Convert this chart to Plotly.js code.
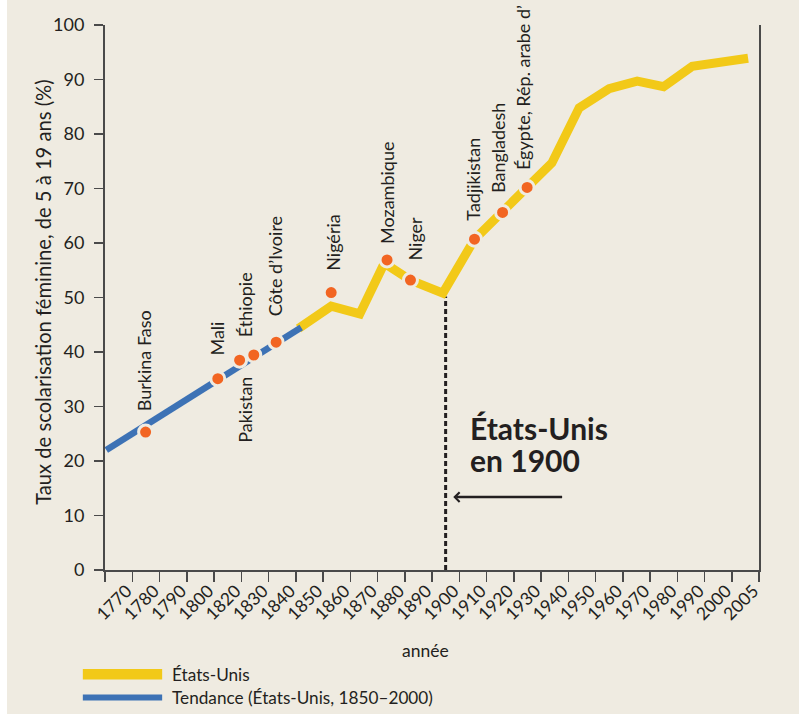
<!DOCTYPE html>
<html>
<head>
<meta charset="utf-8">
<script src="https://cdn.plot.ly/plotly-3.0.1.min.js"></script>
<style>
html,body{margin:0;padding:0;background:#ffffff;}
#chart{position:absolute;left:7px;top:0;width:792px;height:714px;}
</style>
</head>
<body>
<div id="chart"></div>
<script>
// x axis categories (equally spaced label slots; note 1810 is absent in the original)
const tickLabels = ['1770','1780','1790','1800','1820','1830','1840','1850','1860','1870','1880','1890','1900','1910','1920','1930','1940','1950','1960','1970','1980','1990','2000','2005'];

// États-Unis series (x in label-slot units, y in %)
const usPos  = [6.6, 7.8, 8.85, 9.75, 10.7, 11.9, 13.06, 14.09, 14.99, 15.9, 16.9, 18.0, 19.03, 20.0, 21.05, 22.09, 23.1];
const usRate = [44.3, 48.4, 47.0, 56.3, 53.2, 50.8, 60.7, 65.6, 70.2, 74.7, 84.8, 88.3, 89.7, 88.7, 92.4, 93.3, 93.9];

// Tendance (États-Unis, 1850–2000) extended backwards
const trendPos  = [-0.45, 6.7];
const trendRate = [22.0, 44.5];

// Countries placed on the US curve
const countryNames = ['Burkina Faso','Mali','Pakistan','Éthiopie','Côte d’Ivoire','Nigéria','Mozambique','Niger','Tadjikistan','Bangladesh','Égypte, Rép. arabe d’'];
const countryPos   = [0.99, 3.64, 4.44, 4.96, 5.78, 7.8, 9.85, 10.71, 13.06, 14.09, 14.99];
const countryRate  = [25.3, 35.1, 38.5, 39.45, 41.8, 50.9, 56.9, 53.2, 60.7, 65.6, 70.2];

// Reference marker: États-Unis en 1900
const refPos  = [12, 12];
const refRate = [0, 50.2];

const BG = '#efebe1';
const YELLOW = '#f2c918';
const BLUE = '#3d72b5';
const ORANGE = '#f26522';
const TXT = '#231f20';
const AXIS = '#4a4a4a';
const FONT = 'Lato, "Open Sans", sans-serif';

// label placement (pixel offsets from each dot)
const labelPlace = {
  'Burkina Faso': {dx: -2, gap: 19, below: false},
  'Mali': {dx: -1, gap: 21, below: false},
  'Pakistan': {dx: 6, gap: 15, below: true},
  'Éthiopie': {dx: -9, gap: 16, below: false},
  'Côte d’Ivoire': {dx: -1, gap: 24, below: false},
  'Nigéria': {dx: 1, gap: 20, below: false},
  'Mozambique': {dx: 0, gap: 14, below: false},
  'Niger': {dx: 5, gap: 18, below: false},
  'Tadjikistan': {dx: -1.5, gap: 16, below: false},
  'Bangladesh': {dx: -4, gap: 17, below: false},
  'Égypte, Rép. arabe d’': {dx: -4, gap: 15, below: false}
};

const traces = [
  {x: refPos, y: refRate, mode: 'lines', line: {color: TXT, width: 3, dash: '5px,3px'}, hoverinfo: 'skip', showlegend: false},
  {x: usPos, y: usRate, mode: 'lines', name: 'États-Unis', line: {color: YELLOW, width: 9, shape: 'linear'}, showlegend: false},
  {x: trendPos, y: trendRate, mode: 'lines', name: 'Tendance (États-Unis, 1850–2000)', line: {color: BLUE, width: 6.5}, showlegend: false},
  {x: countryPos, y: countryRate, mode: 'markers', text: countryNames, name: 'pays',
   marker: {color: ORANGE, size: 14, line: {color: BG, width: 3}}, showlegend: false}
];

const annotations = countryNames.map((n, i) => {
  const p = labelPlace[n];
  return {
    x: countryPos[i], y: countryRate[i], xref: 'x', yref: 'y',
    text: n, showarrow: false, textangle: -90,
    xanchor: 'center', yanchor: p.below ? 'top' : 'bottom',
    xshift: p.dx, yshift: p.below ? -p.gap : p.gap,
    font: {family: FONT, size: 18, color: TXT}
  };
});

// big annotation and arrow
annotations.push(
  {xref: 'paper', yref: 'paper', x: 0.5554, y: 0.2604, xanchor: 'left', yanchor: 'middle', showarrow: false,
   text: '<b>États-Unis</b>', font: {family: FONT, size: 30, color: TXT}},
  {xref: 'paper', yref: 'paper', x: 0.5554, y: 0.2018, xanchor: 'left', yanchor: 'middle', showarrow: false,
   text: '<b>en 1900</b>', font: {family: FONT, size: 30, color: TXT}},
  {xref: 'x', yref: 'y', x: 12.28, y: 13.38, axref: 'x', ayref: 'y', ax: 16.33, ay: 13.38,
   text: '', showarrow: true, arrowhead: 4, arrowsize: 0.75, arrowwidth: 2.5, arrowcolor: TXT, standoff: 0},
  // axis titles
  {xref: 'paper', yref: 'paper', x: -0.096, y: 0.509, xanchor: 'center', yanchor: 'middle', showarrow: false,
   textangle: -90, text: 'Taux de scolarisation féminine, de 5 à 19 ans (%)', font: {family: FONT, size: 20.2, color: TXT}},
  {xref: 'paper', yref: 'paper', x: 0.4897, y: -0.1479, xanchor: 'center', yanchor: 'middle', showarrow: false,
   text: 'année', font: {family: FONT, size: 17.5, color: TXT}},
  // legend texts
  {xref: 'paper', yref: 'paper', x: 0.1001, y: -0.1919, xanchor: 'left', yanchor: 'middle', showarrow: false,
   text: 'États-Unis', font: {family: FONT, size: 17.2, color: TXT}},
  {xref: 'paper', yref: 'paper', x: 0.1001, y: -0.2331, xanchor: 'left', yanchor: 'middle', showarrow: false,
   text: 'Tendance (États-Unis, 1850–2000)', font: {family: FONT, size: 17.2, color: TXT}}
);

const shapes = [
  {type: 'rect', xref: 'paper', yref: 'paper', x0: -0.0339, x1: 0.0874, y0: -0.2011, y1: -0.1815,
   fillcolor: YELLOW, line: {width: 0}},
  {type: 'rect', xref: 'paper', yref: 'paper', x0: -0.0339, x1: 0.0874, y0: -0.2396, y1: -0.2286,
   fillcolor: BLUE, line: {width: 0}}
];

const boundaries = tickLabels.map((_, i) => i - 0.5).concat([tickLabels.length - 0.5]);

const layout = {
  width: 792, height: 714,
  paper_bgcolor: BG, plot_bgcolor: BG,
  margin: {l: 97.5, r: 40, t: 24.7, b: 143.7, pad: 0},
  showlegend: false,
  font: {family: FONT, color: TXT},
  xaxis: {
    range: [-0.5, tickLabels.length - 0.5],
    tickmode: 'array', tickvals: tickLabels.map((_, i) => i), ticktext: tickLabels,
    ticks: '', tickangle: -45, ticklabelshift: 8, ticklabelstandoff: 2,
    tickfont: {family: FONT, size: 17.5, color: TXT},
    showgrid: false, zeroline: false, showline: true, linecolor: AXIS, linewidth: 2,
    minor: {tickmode: 'array', tickvals: boundaries, ticks: 'outside', ticklen: 10, tickwidth: 1.5, tickcolor: AXIS, showgrid: false},
    fixedrange: true
  },
  yaxis: {
    range: [0, 100], tickmode: 'linear', tick0: 0, dtick: 10,
    ticks: 'outside', ticklen: 9, tickwidth: 1.5, tickcolor: AXIS, ticklabelstandoff: 6,
    tickfont: {family: FONT, size: 18, color: TXT},
    showgrid: false, zeroline: false, showline: true, linecolor: AXIS, linewidth: 2, mirror: true,
    fixedrange: true
  },
  annotations: annotations,
  shapes: shapes
};

Plotly.newPlot('chart', traces, layout, {displayModeBar: false, staticPlot: true});
</script>
</body>
</html>
